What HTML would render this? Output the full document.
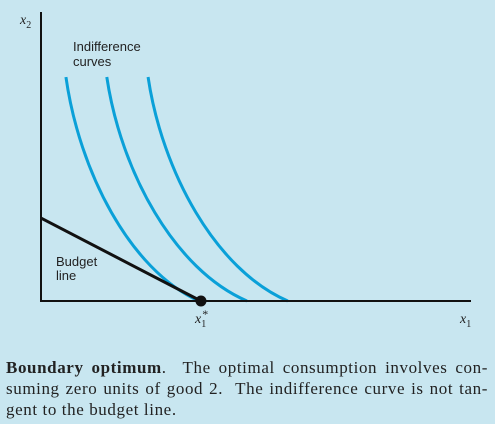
<!DOCTYPE html>
<html><head><meta charset="utf-8"><style>
body{margin:0;width:495px;height:424px;background:#c8e6f0;overflow:hidden;position:relative}
svg{position:absolute;left:0;top:0}
.cap{position:absolute;left:6px;top:357px;width:482px;font-family:"Liberation Serif",serif;font-size:17px;line-height:21px;color:#222;letter-spacing:0.6px}
.cap .j{text-align:justify;text-align-last:justify;white-space:nowrap}
</style></head><body>
<svg width="495" height="350">
<g id="g"></g>
<text x="20" y="24" font-family="Liberation Serif,serif" font-style="italic" font-size="14" fill="#222">x<tspan font-size="10" dy="4" font-style="normal">2</tspan></text>
<text x="460" y="323" font-family="Liberation Serif,serif" font-style="italic" font-size="14" fill="#222">x<tspan font-size="10" dy="4" font-style="normal">1</tspan></text>
<text x="195" y="323" font-family="Liberation Serif,serif" font-style="italic" font-size="14" fill="#222">x<tspan font-size="10" dy="4" font-style="normal">1</tspan><tspan font-size="12" dy="-9" dx="-4" font-style="normal">*</tspan></text>
<text font-family="Liberation Sans,sans-serif" font-size="13" fill="#222"><tspan x="73" y="51">Indifference</tspan><tspan x="73" y="66">curves</tspan></text>
<text font-family="Liberation Sans,sans-serif" font-size="13" fill="#222"><tspan x="56" y="266">Budget</tspan><tspan x="56" y="280">line</tspan></text>
</svg>
<div class="cap">
<div class="j"><b>Boundary optimum</b>. &nbsp;The optimal consumption involves con-</div>
<div class="j">suming zero units of good 2. &nbsp;The indifference curve is not tan-</div>
<div>gent to the budget line.</div>
</div>
<script>
const curveTopX=[5.8,15.3,24.9];
const curveBottomX=[36.7,47.9,57.4];
const curveTopY=[77.5,77.5,77.5];
const budgetIntercepts=[37.2,28.7];
const X=v=>41+v*4.3, Y=v=>301-v*2.89;
const g=document.getElementById('g');
const NS='http://www.w3.org/2000/svg';
function mk(t,a){const e=document.createElementNS(NS,t);for(const k in a)e.setAttribute(k,a[k]);g.appendChild(e);return e;}
curveTopX.forEach((tx,i)=>{
 const bx=curveBottomX[i],ty=curveTopY[i];
 const x0=X(tx),y0=Y(ty),x3=X(bx),y3=Y(0);
 const dx=x3-x0,dy=y3-y0;
 const d=`M${x0},${y0} C${x0+dx*0.1},${y0+dy*0.42} ${x0+dx*0.48},${y0+dy*0.86} ${x3},${y3}`;
 const p=mk('path',{d,fill:'none',stroke:'#0aa0d8','stroke-width':3});
 
 
});
const b=mk('line',{x1:X(0),y1:Y(budgetIntercepts[1]),x2:X(budgetIntercepts[0]),y2:Y(0),stroke:'#111','stroke-width':3});


const ya=mk('line',{x1:41,y1:12,x2:41,y2:302,stroke:'#111','stroke-width':2});


const xa=mk('line',{x1:40,y1:301,x2:471,y2:301,stroke:'#111','stroke-width':2});


const dot=mk('circle',{cx:X(budgetIntercepts[0]),cy:Y(0),r:5.5,fill:'#111'});


</script>
</body></html>
